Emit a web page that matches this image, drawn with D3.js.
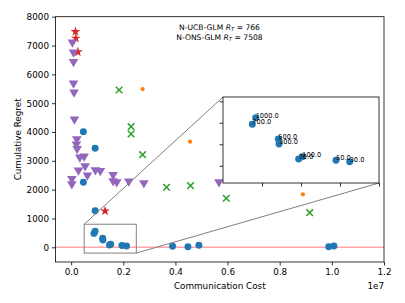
<!DOCTYPE html>
<html>
<head>
<meta charset="utf-8">
<script src="https://cdn.jsdelivr.net/npm/d3@7"></script>
<style>
  body { margin: 0; background: #fff; }
  svg { font-family: "DejaVu Sans", sans-serif; }
</style>
</head>
<body>
<div class="chart"></div>
<script>
const FRAME_WIDTH = 405;
const FRAME_HEIGHT = 303;

// blue: N-UCB-GLM runs, label only shown in the inset
const BLUE_X = [0.0919e7, 0.0876e7, 0.1209e7, 0.1218e7, 0.1517e7, 0.1470e7, 0.1949e7, 0.2124e7,
                0.047e7, 0.092e7, 0.047e7, 0.092e7, 0.389e7, 0.448e7, 0.490e7, 0.988e7, 1.008e7];
const BLUE_Y = [559, 483, 312, 253, 106, 79, 64, 48,
                4011, 3435, 2255, 1270, 35, 21, 69, 21, 45];
const BLUE_LABELS = ["1000.0", "700.0", "500.0", "300.0", "100.0", "70.0", "50.0", "30.0"];

const ORANGE_X = [0.274e7, 0.456e7, 0.889e7];
const ORANGE_Y = [5488, 3664, 1839];

const GREEN_X = [0.184e7, 0.230e7, 0.230e7, 0.274e7, 0.366e7, 0.458e7, 0.595e7, 0.915e7];
const GREEN_Y = [5458, 4185, 3931, 3213, 2082, 2138, 1700, 1201];

const RED_X = [0.0165e7, 0.018e7, 0.0256e7, 0.130e7];
const RED_Y = [7481, 7252, 6777, 1260];

const PURPLE_X = [0.005e7, 0.009e7, 0.009e7, 0.009e7, 0.011e7, 0.0126e7, 0.0218e7, 0.0203e7, 0.023e7,
                  0.0333e7, 0.0498e7, 0.0536e7, 0.028e7, 0.0624e7, 0.093e7, 0.112e7, 0.161e7,
                  0.0027e7, 0.0027e7, 0.161e7, 0.175e7, 0.221e7, 0.279e7, 0.567e7];
const PURPLE_Y = [7113, 6766, 6440, 5690, 5378, 4441, 3758, 3574, 3421,
                  3123, 3158, 2821, 2672, 2498, 2682, 2658, 2519,
                  2380, 2197, 2301, 2266, 2290, 2231, 2266];

const X_TICKS = [0, 0.2e7, 0.4e7, 0.6e7, 0.8e7, 1.0e7, 1.2e7];
const Y_TICKS = [0, 1000, 2000, 3000, 4000, 5000, 6000, 7000, 8000];
const INSET_X_TICKS = [1.0e6, 1.5e6, 2.0e6, 2.5e6];
const INSET_Y_TICKS = [0, 250, 500, 750];
const INSET_X_RANGE = [0.5e6, 2.5e6];
const INSET_Y_RANGE = [-200, 800];

const svg = d3.select(".chart").append("svg")
    .attr("width", FRAME_WIDTH)
    .attr("height", FRAME_HEIGHT);

const X_SCALE = d3.scaleLinear().domain([-0.06e7, 1.2e7]).range([55.5, 384]);
const Y_SCALE = d3.scaleLinear().domain([-510, 8000]).range([262, 16.7]);

// red zero line
svg.append("line")
    .attr("x1", X_SCALE.range()[0]).attr("x2", X_SCALE.range()[1])
    .attr("y1", Y_SCALE(0)).attr("y2", Y_SCALE(0))
    .attr("stroke", "red").attr("stroke-opacity", 0.35).attr("stroke-width", 1.5);

function drawMarkers(g, xs, ys, xs_, ys_, kind, color) {
    const pts = xs.map((v, i) => [v, ys[i]]);
    let sym, size, fill = color, stroke = "none", sw = 0, rot = 0;
    if (kind == "circle") { sym = d3.symbolCircle; size = 38; }
    if (kind == "dot") { sym = d3.symbolCircle; size = 14; }
    if (kind == "star") { sym = d3.symbolStar; size = 30; }
    if (kind == "tri") { sym = d3.symbolTriangle; size = 40; rot = 180; }
    if (kind == "x") { sym = d3.symbolTimes; size = 30; fill = "none"; stroke = color; sw = 1.5; }
    g.selectAll(null)
        .data(pts)
        .enter()
        .append("path")
            .attr("d", d3.symbol(sym, size))
            .attr("transform", d => "translate(" + xs_(d[0]) + "," + ys_(d[1]) + ") rotate(" + rot + ")")
            .attr("fill", fill)
            .attr("stroke", stroke)
            .attr("stroke-width", sw);
}

const MAIN = svg.append("g");
drawMarkers(MAIN, BLUE_X, BLUE_Y, X_SCALE, Y_SCALE, "circle", "#1f77b4");
drawMarkers(MAIN, ORANGE_X, ORANGE_Y, X_SCALE, Y_SCALE, "dot", "#ff7f0e");
drawMarkers(MAIN, GREEN_X, GREEN_Y, X_SCALE, Y_SCALE, "x", "#2ca02c");
drawMarkers(MAIN, RED_X, RED_Y, X_SCALE, Y_SCALE, "star", "#d62728");
drawMarkers(MAIN, PURPLE_X, PURPLE_Y, X_SCALE, Y_SCALE, "tri", "#9467bd");

// axes
const xAxis = svg.append("g")
    .attr("transform", "translate(0," + Y_SCALE.range()[0] + ")")
    .call(d3.axisBottom(X_SCALE).tickValues(X_TICKS).tickSize(3.5).tickPadding(3)
        .tickFormat(d => (d / 1e7).toFixed(1)));
const yAxis = svg.append("g")
    .attr("transform", "translate(" + X_SCALE.range()[0] + ",0)")
    .call(d3.axisLeft(Y_SCALE).tickValues(Y_TICKS).tickSize(3.5).tickPadding(3)
        .tickFormat(d3.format("d")));
[xAxis, yAxis].forEach(a => {
    a.select(".domain").remove();
    a.selectAll("text").attr("font-size", "8.8px").attr("fill", "#000")
        .attr("font-family", "DejaVu Sans");
    a.selectAll("line").attr("stroke", "#000").attr("stroke-width", 0.8);
});

svg.append("rect")
    .attr("x", X_SCALE.range()[0]).attr("y", Y_SCALE.range()[1])
    .attr("width", X_SCALE.range()[1] - X_SCALE.range()[0])
    .attr("height", Y_SCALE.range()[0] - Y_SCALE.range()[1])
    .attr("fill", "none").attr("stroke", "#000").attr("stroke-width", 0.8);

svg.append("text").attr("x", 384).attr("y", 289).attr("text-anchor", "end")
    .attr("font-size", "8.8px").text("1e7");
svg.append("text").attr("x", (X_SCALE.range()[0] + X_SCALE.range()[1]) / 2).attr("y", 289)
    .attr("text-anchor", "middle").attr("font-size", "8.8px").text("Communication Cost");
svg.append("text")
    .attr("transform", "translate(21," + ((Y_SCALE.range()[0] + Y_SCALE.range()[1]) / 2) + ") rotate(-90)")
    .attr("text-anchor", "middle").attr("font-size", "8.8px").text("Cumulative Regret");

// R_T annotation
[["N-UCB-GLM ", "766", 29.5], ["N-ONS-GLM ", "7508", 39.5]].forEach(r => {
    const t = svg.append("text").attr("x", 219.5).attr("y", r[2])
        .attr("text-anchor", "middle").attr("font-size", "7.6px");
    t.append("tspan").text(r[0]);
    t.append("tspan").attr("font-style", "italic").text("R");
    t.append("tspan").attr("font-style", "italic").attr("font-size", "5.4px").attr("dy", 1.5).text("T");
    t.append("tspan").attr("dy", -1.5).text(" = " + r[1]);
});

// inset
const XI = d3.scaleLinear().domain(INSET_X_RANGE).range([223, 379]);
const YI = d3.scaleLinear().domain(INSET_Y_RANGE).range([183, 97]);

// zoom box and connectors
svg.append("rect")
    .attr("x", X_SCALE(INSET_X_RANGE[0])).attr("y", Y_SCALE(INSET_Y_RANGE[1]))
    .attr("width", X_SCALE(INSET_X_RANGE[1]) - X_SCALE(INSET_X_RANGE[0]))
    .attr("height", Y_SCALE(INSET_Y_RANGE[0]) - Y_SCALE(INSET_Y_RANGE[1]))
    .attr("fill", "none").attr("stroke", "#808080").attr("stroke-width", 1);
svg.append("line")
    .attr("x1", X_SCALE(INSET_X_RANGE[0])).attr("y1", Y_SCALE(INSET_Y_RANGE[1]))
    .attr("x2", XI.range()[0]).attr("y2", YI.range()[1])
    .attr("stroke", "#808080").attr("stroke-width", 1);
svg.append("line")
    .attr("x1", X_SCALE(INSET_X_RANGE[1])).attr("y1", Y_SCALE(INSET_Y_RANGE[0]))
    .attr("x2", XI.range()[1]).attr("y2", YI.range()[0])
    .attr("stroke", "#808080").attr("stroke-width", 1);

const INSET = svg.append("g");
INSET.append("rect")
    .attr("x", 223).attr("y", 97).attr("width", 156).attr("height", 86)
    .attr("fill", "#fff");
const insetIdx = BLUE_LABELS.map((d, i) => i);
drawMarkers(INSET, insetIdx.map(i => BLUE_X[i]), insetIdx.map(i => BLUE_Y[i]), XI, YI, "circle", "#1f77b4");
INSET.selectAll(".lbl")
    .data(insetIdx)
    .enter()
    .append("text")
        .attr("class", "lbl")
        .attr("x", i => XI(BLUE_X[i]))
        .attr("y", i => YI(BLUE_Y[i]))
        .attr("font-size", "6.6px")
        .text(i => BLUE_LABELS[i]);

const xiAxis = INSET.append("g").attr("transform", "translate(0,183)")
    .call(d3.axisBottom(XI).tickValues(INSET_X_TICKS).tickSize(3.5).tickFormat(""));
const yiAxis = INSET.append("g").attr("transform", "translate(223,0)")
    .call(d3.axisLeft(YI).tickValues(INSET_Y_TICKS).tickSize(3.5).tickFormat(""));
[xiAxis, yiAxis].forEach(a => {
    a.select(".domain").remove();
    a.selectAll("line").attr("stroke", "#000").attr("stroke-width", 0.8);
});
INSET.append("rect")
    .attr("x", 223).attr("y", 97).attr("width", 156).attr("height", 86)
    .attr("fill", "none").attr("stroke", "#000").attr("stroke-width", 0.8);
</script>
</body>
</html>
